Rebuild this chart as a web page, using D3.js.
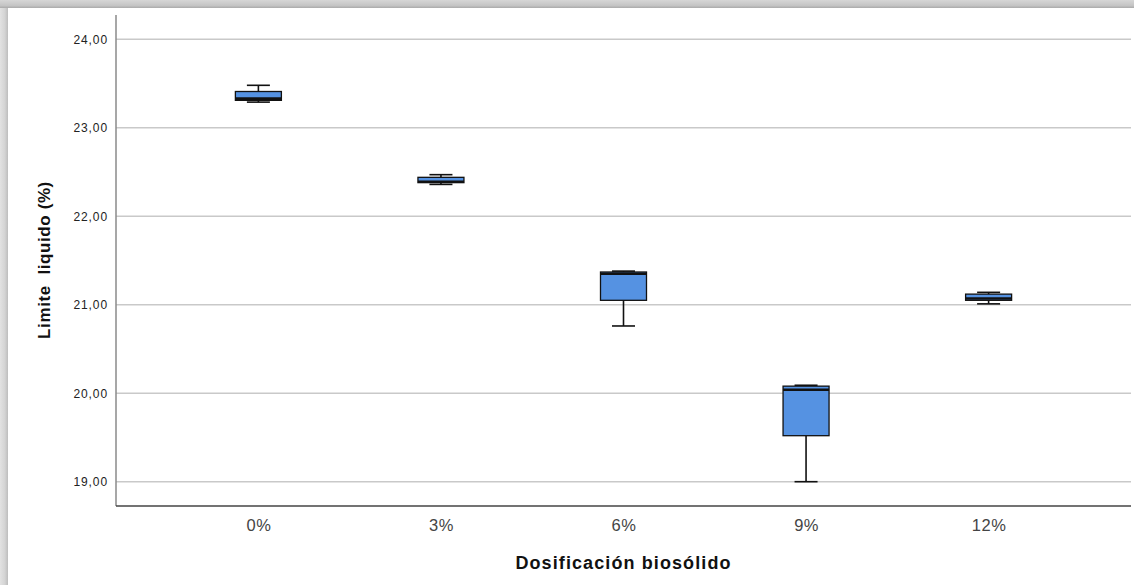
<!DOCTYPE html>
<html>
<head>
<meta charset="utf-8">
<script src="https://cdn.jsdelivr.net/npm/d3@7"></script>
<style>
  html, body { margin: 0; padding: 0; background: #fff; }
  svg { display: block; }
  text { font-family: "Liberation Sans", Arial, sans-serif; }
</style>
</head>
<body>
<svg id="chart" width="1134" height="585"></svg>
<script>
// Liquid limit by biosolid dosage: five-number summaries per group
const categories = ["0%", "3%", "6%", "9%", "12%"];
const minVals    = [23.29, 22.36, 20.76, 19.00, 21.01];
const q1Vals     = [23.31, 22.38, 21.05, 19.52, 21.05];
const medianVals = [23.33, 22.39, 21.35, 20.04, 21.07];
const q3Vals     = [23.41, 22.44, 21.37, 20.08, 21.12];
const maxVals    = [23.48, 22.47, 21.38, 20.09, 21.14];
const yTicks     = [19, 20, 21, 22, 23, 24];

const boxes = categories.map((c, i) => ({
  cat: c, min: minVals[i], q1: q1Vals[i], med: medianVals[i], q3: q3Vals[i], max: maxVals[i]
}));

const svg = d3.select("#chart");
const W = 1134, H = 585;

// panel frame shading (top and left edges)
const defs = svg.append("defs");
const gTop = defs.append("linearGradient").attr("id", "edgeTop").attr("x1", 0).attr("y1", 0).attr("x2", 0).attr("y2", 1);
gTop.append("stop").attr("offset", "0%").attr("stop-color", "#d6d6d6");
gTop.append("stop").attr("offset", "70%").attr("stop-color", "#c4c4c4");
gTop.append("stop").attr("offset", "100%").attr("stop-color", "#a9a9a9");
const gLeft = defs.append("linearGradient").attr("id", "edgeLeft").attr("x1", 0).attr("y1", 0).attr("x2", 1).attr("y2", 0);
gLeft.append("stop").attr("offset", "0%").attr("stop-color", "#e2e2e2");
gLeft.append("stop").attr("offset", "60%").attr("stop-color", "#d4d4d4");
gLeft.append("stop").attr("offset", "100%").attr("stop-color", "#bdbdbd");

svg.append("rect").attr("x", 0).attr("y", 0).attr("width", 8).attr("height", H).attr("fill", "url(#edgeLeft)");
svg.append("rect").attr("x", 0).attr("y", 0).attr("width", W).attr("height", 8).attr("fill", "url(#edgeTop)");

const plot = { left: 116, right: 1131, top: 15, bottom: 506 };

const y = d3.scaleLinear()
  .domain([19, 24])
  .range([481.7, 39.3]);

const x = d3.scalePoint()
  .domain(categories)
  .range([plot.left, plot.right])
  .padding(0.78);

// horizontal gridlines
svg.append("g")
  .selectAll("line")
  .data(yTicks)
  .join("line")
  .attr("x1", plot.left).attr("x2", plot.right)
  .attr("y1", d => y(d)).attr("y2", d => y(d))
  .attr("stroke", "#c9c9c9").attr("stroke-width", 1.5);

// y axis
const yAxis = svg.append("g")
  .attr("transform", `translate(${plot.left},0)`)
  .call(d3.axisLeft(y).tickValues(yTicks).tickSize(0).tickPadding(8)
    .tickFormat(d => d3.format(".2f")(d).replace(".", ",")));
yAxis.select(".domain").remove();
yAxis.selectAll("text")
  .attr("font-size", 12).attr("fill", "#222").attr("letter-spacing", "0.9px");
svg.append("line")
  .attr("x1", plot.left).attr("x2", plot.left)
  .attr("y1", plot.top).attr("y2", plot.bottom)
  .attr("stroke", "#8a8a8a").attr("stroke-width", 1.5);

// x axis
const xAxis = svg.append("g")
  .attr("transform", `translate(0,${plot.bottom})`)
  .call(d3.axisBottom(x).tickSize(0).tickPadding(13));
xAxis.select(".domain").remove();
xAxis.selectAll("text")
  .attr("font-size", 16.5).attr("fill", "#444").attr("letter-spacing", "0.5px");
svg.append("line")
  .attr("x1", plot.left).attr("x2", plot.right)
  .attr("y1", plot.bottom).attr("y2", plot.bottom)
  .attr("stroke", "#444").attr("stroke-width", 1.3);

// box plots
const boxW = 46, capW = 23;
const g = svg.append("g").selectAll("g").data(boxes).join("g")
  .attr("transform", d => `translate(${x(d.cat)},0)`);

// whiskers
g.append("line")
  .attr("x1", 0).attr("x2", 0)
  .attr("y1", d => y(d.max)).attr("y2", d => y(d.q3))
  .attr("stroke", "#111").attr("stroke-width", 1.6);
g.append("line")
  .attr("x1", 0).attr("x2", 0)
  .attr("y1", d => y(d.q1)).attr("y2", d => y(d.min))
  .attr("stroke", "#111").attr("stroke-width", 1.6);
g.append("line")
  .attr("x1", -capW / 2).attr("x2", capW / 2)
  .attr("y1", d => y(d.max)).attr("y2", d => y(d.max))
  .attr("stroke", "#111").attr("stroke-width", 1.6);
g.append("line")
  .attr("x1", -capW / 2).attr("x2", capW / 2)
  .attr("y1", d => y(d.min)).attr("y2", d => y(d.min))
  .attr("stroke", "#111").attr("stroke-width", 1.6);

// boxes
g.append("rect")
  .attr("x", -boxW / 2).attr("width", boxW)
  .attr("y", d => y(d.q3)).attr("height", d => y(d.q1) - y(d.q3))
  .attr("fill", "#5592e2").attr("stroke", "#111").attr("stroke-width", 1.3);

// medians
g.append("line")
  .attr("x1", -boxW / 2).attr("x2", boxW / 2)
  .attr("y1", d => y(d.med)).attr("y2", d => y(d.med))
  .attr("stroke", "#111").attr("stroke-width", 2.6);

// axis titles
svg.append("text")
  .attr("x", x("6%")).attr("y", 569)
  .attr("text-anchor", "middle")
  .attr("font-size", 18).attr("font-weight", "bold").attr("fill", "#111")
  .attr("letter-spacing", "1.1px")
  .text("Dosificación biosólido");

svg.append("text")
  .attr("transform", "translate(50,260) rotate(-90)")
  .attr("text-anchor", "middle")
  .attr("font-size", 17).attr("font-weight", "bold").attr("fill", "#111")
  .attr("letter-spacing", "0.6px")
  .style("white-space", "pre")
  .text("Limite  liquido (%)");
</script>
</body>
</html>
